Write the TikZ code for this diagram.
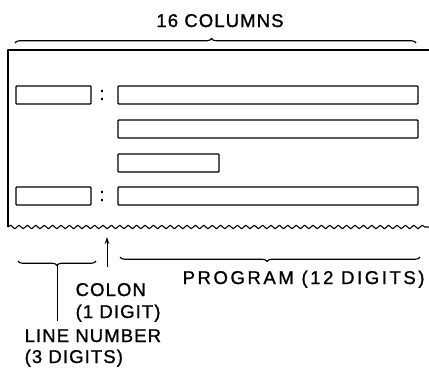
\documentclass[tikz,border=0pt]{standalone}
\usepackage{fontspec}
\setmainfont{Liberation Sans}[LetterSpace=6,FakeBold=1.2]
\usetikzlibrary{decorations.pathreplacing,decorations.pathmorphing,arrows.meta}
\begin{document}
\begin{tikzpicture}[x=1pt,y=-1pt,
  line width=1.3pt, line join=round,
  fld/.style={draw, rectangle, rounded corners=0.8pt, minimum height=18, inner sep=0pt},
  lbl/.style={font=\fontsize{18.5}{22}\selectfont, inner sep=0pt},
  widelbl/.style={font=\fontsize{18.5}{22}\selectfont\addfontfeature{LetterSpace=14}, inner sep=0pt},
  brc/.style={decorate, line width=1.1pt, decoration={brace, amplitude=4.5pt, aspect=#1}},
  brc/.default=0.5,
  wavy/.style={decorate, decoration={snake, segment length=8.4pt, amplitude=1.8pt}}]
\useasboundingbox (0,0) rectangle (429,370);
% title and top brace
\node[lbl, anchor=base] (title) at (220,27) {16 COLUMNS};
\coordinate (tbl) at (15,43);
\coordinate (tbr) at (416,43);
\draw[brc=0.49] (tbl) -- (tbr);
% main frame
\coordinate (ftr) at (429,50);
\coordinate (ftl) at (8,50);
\coordinate (fbl) at (8,227);
\coordinate (fbr) at (429,227);
\draw (ftr) -- (ftl) -- (fbl);
\draw[wavy, line width=1.1pt] (fbl) -- (fbr);
% rows
\node[fld, minimum width=75] (ln1) at (53.5,95) {};
\node[lbl] (c1) at (102,95) {:};
\node[fld, minimum width=300] (p1) at (268,95) {};
\node[fld, minimum width=300] (p2) at (268,129) {};
\node[fld, minimum width=101] (p3) at (168.5,163) {};
\node[fld, minimum width=75] (ln4) at (53.5,196) {};
\node[lbl] (c4) at (102,196) {:};
\node[fld, minimum width=300] (p4) at (268,196) {};
% colon arrow
\coordinate (at) at (107,237);
\coordinate (ab) at (107,267);
\draw[line width=1pt, -{Stealth[length=7pt,width=4.5pt]}] (ab) -- (at);
% bottom braces
\coordinate (lbr) at (96,261);
\coordinate (lbl) at (18,261);
\draw[brc=0.5] (lbr) -- (lbl);
\coordinate (ltip) at (57,265.5);
\coordinate (lend) at (57,321);
\draw[line width=1pt] (ltip) -- (lend);
\coordinate (rbr) at (420,257);
\coordinate (rbl) at (120,257);
\draw[brc=0.51] (rbr) -- (rbl);
% labels
\node[widelbl, anchor=base west] (prog) at (182,284) {PROGRAM (12 DIGITS)};
\node[lbl, anchor=base west] (colon) at (75,296) {COLON};
\node[lbl, anchor=base west] (cd) at (75,318) {(1 DIGIT)};
\node[lbl, anchor=base west] (lnum) at (24,342) {LINE NUMBER};
\node[lbl, anchor=base west] (ld) at (24,363) {(3 DIGITS)};
\end{tikzpicture}
\end{document}
